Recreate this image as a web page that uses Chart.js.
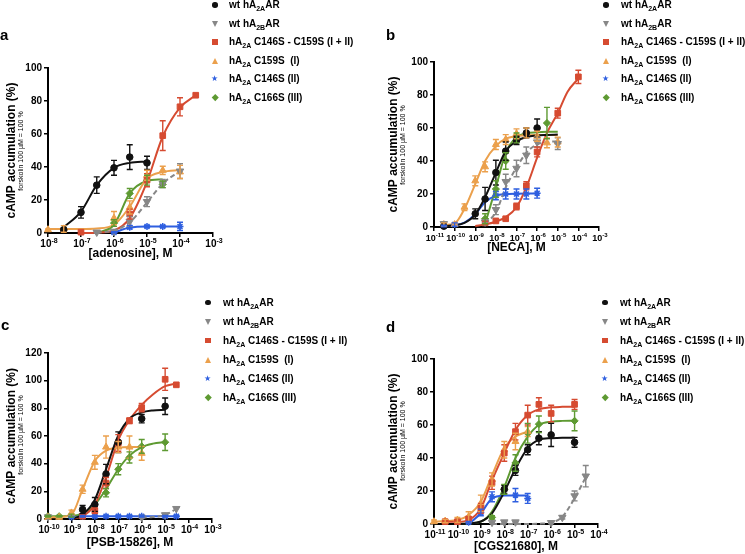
<!DOCTYPE html>
<html>
<head>
<meta charset="utf-8">
<script src="https://cdn.jsdelivr.net/npm/chart.js@4.4.1/dist/chart.umd.min.js"></script>
<style>
  body { margin: 0; background: #fff; font-family: "Liberation Sans", Arial, sans-serif; }
  #page { position: relative; width: 745px; height: 554px; overflow: hidden; }
  .panel { position: absolute; }
  .letter { position: absolute; font-weight: bold; font-size: 15px; line-height: 15px; }
  .subtitle { position: absolute; font-size: 7px; white-space: nowrap; transform: translate(-50%, -50%) rotate(-90deg); }
  .legend-row { position: absolute; white-space: nowrap; font-size: 10px; font-weight: bold; line-height: 12px; }
  .legend-row sub { font-size: 7px; vertical-align: -3px; line-height: 0; }
  .mk { position: absolute; }
</style>
</head>
<body>
<div id="page">
  <div class="panel" id="boxA"><canvas id="chartA" width="235" height="225"></canvas></div>
  <div class="panel" id="boxB"><canvas id="chartB" width="230" height="220"></canvas></div>
  <div class="panel" id="boxC"><canvas id="chartC" width="235" height="224"></canvas></div>
  <div class="panel" id="boxD"><canvas id="chartD" width="230" height="224"></canvas></div>
</div>
<script>
// values: concentrations in M, responses in % (forskolin 100 uM = 100 %)

// a: adenosine
const adenosineConc = [1e-8, 3e-8, 1e-7, 3e-7, 1e-6, 3e-6, 1e-5, 3e-5, 1e-4, 3e-4];
const adenosineTicks = [1e-8, 1e-7, 1e-6, 1e-5, 1e-4, 1e-3];
const adenosineWtA2A    = [null, 2, 12.5, 29, 39.5, 46, 42.5, null, null, null];
const adenosineWtA2AErr = [null, 1, 3.5, 5, 4.5, 7.5, 4, null, null, null];
const adenosineWtA2AFit = [null, 3.5, 13, 29, 39.5, 42.5, 43.3, null, null, null];
const adenosineWtA2B    = [null, null, null, 0.5, 1, 7, 19, 30, 37.5, null];
const adenosineWtA2BErr = [null, null, null, 0.5, 0.5, 3, 3, 2.5, 4.5, null];
const adenosineWtA2BFit = [null, null, null, 0.3, 1.5, 6.5, 18.5, 30, 37.5, null];
const adenosineDbl      = [null, null, 0.5, null, null, 11.5, 32, 59, 76.5, 83.5];
const adenosineDblErr   = [null, null, 0.5, null, null, 3, 4, 9, 5.5, 0];
const adenosineDblFit   = [null, null, 0, 0.2, 1.5, 9, 31, 58.5, 76, 83.5];
const adenosineC159     = [2, 2.5, null, null, 9, 15.5, 35, 38, 37, null];
const adenosineC159Err  = [0.5, 2, null, null, 4, 4, 3, 2.5, 4, null];
const adenosineC159Fit  = [2.5, 2.5, 2.5, 2.8, 5, 16, 33, 37, 38.2, null];
const adenosineC146     = [null, null, null, null, 0.3, 3.5, 4, 4, 4, null];
const adenosineC146Err  = [null, null, null, null, 0.5, 1, 0.5, 0.5, 2.5, null];
const adenosineC146Fit  = [null, null, null, null, 0.3, 3.3, 4, 4, 4, null];
const adenosineC166     = [null, null, null, null, 6, 24, 32, 29.5, null, null];
const adenosineC166Err  = [null, null, null, null, 2, 3, 3, 2, null, null];
const adenosineC166Fit  = [null, null, null, 0, 5, 24, 31.5, 32.5, null, null];

// b: NECA
const necaConc = [3e-11, 1e-10, 3e-10, 1e-9, 3e-9, 1e-8, 3e-8, 1e-7, 3e-7, 1e-6, 3e-6, 1e-5, 3e-5, 1e-4];
const necaTicks = [1e-11, 1e-10, 1e-9, 1e-8, 1e-7, 1e-6, 1e-5, 1e-4, 1e-3];
const necaWtA2A    = [0.5, null, null, 8, 17, 33, 46, 52.5, 57, 60, null, null, null, null];
const necaWtA2AErr = [0.5, null, null, 3, 7, 7.5, 5.5, 2.5, 3, 5.5, null, null, null, null];
const necaWtA2AFit = [0.5, 1, 2.5, 7.5, 18, 33, 46, 52, 54.5, 55.5, 55.8, 56, null, null];
const necaWtA2B    = [2, null, null, null, 3, 10.5, 27.5, 35.5, 43.5, 51.5, null, 50.5, null, null];
const necaWtA2BErr = [1, null, null, null, 1.5, 3, 4.5, 5, 5, 3, null, 3.5, null, null];
const necaWtA2BFit = [null, null, null, null, 2, 9, 24, 36, 45, 50, 51.5, 52, null, null];
const necaDbl      = [null, null, null, null, 2.5, 3.7, 5, 12.5, 25, 45.5, null, 69, null, 91];
const necaDblErr   = [null, null, null, null, 1, 1, 1, 2, 2.5, 3, null, 3, null, 4];
const necaDblFit   = [null, null, null, 0.6, 1.6, 3.2, 6, 12, 24, 42, 57, 69, 82, 90];
const necaC159     = [1.5, 1.5, 12, 28, 36.5, 50, 53, 56.5, 57, 55, 51, 51.5, null, null];
const necaC159Err  = [1, 1, 2, 3, 3, 3, 3, 3, 3, 3, 3, 3, null, null];
const necaC159Fit  = [1.2, 2.2, 11, 26, 40, 49, 53.5, 55, 55.5, 55.8, 55.8, 55.8, null, null];
const necaC146     = [0.6, 1.5, null, null, null, 19, 20, 20, 20, 20.5, null, null, null, null];
const necaC146Err  = [0.5, 1, null, null, null, 2.5, 3, 3, 3, 3, null, null, null, null];
const necaC146Fit  = [0.6, 1, 2.6, 7.7, 15, 19, 19.9, 20.2, 20.3, 20.3, null, null, null, null];
const necaC166     = [null, null, null, null, 5, 23, 40, 54, null, null, 63, null, null, null];
const necaC166Err  = [null, null, null, null, 3, 5, 5, 3, null, null, 9.5, null, null, null];
const necaC166Fit  = [null, null, null, null, 2, 24, 45, 54.4, 56.8, 57.4, 57.7, 57.8, null, null];

// c: PSB-15826
const psbConc = [1e-10, 3e-10, 1e-9, 3e-9, 1e-8, 3e-8, 1e-7, 3e-7, 1e-6, 3e-6, 1e-5, 3e-5];
const psbTicks = [1e-10, 1e-9, 1e-8, 1e-7, 1e-6, 1e-5, 1e-4, 1e-3];
const psbWtA2A    = [null, null, null, 6.8, 10.5, 32.5, 55.5, null, 72.5, null, 81.5, null];
const psbWtA2AErr = [null, null, null, 3, 5, 7, 7.5, null, 3, null, 6, null];
const psbWtA2AFit = [null, null, 0, 3.2, 14, 36, 60.5, 72.5, 77, 78.5, 79, null];
const psbWtA2B    = [1.5, null, null, null, null, null, null, null, 1.2, null, 3, 7.5];
const psbWtA2BErr = [0.5, null, null, null, null, null, null, null, 0.5, null, 1, 0];
const psbWtA2BFit = [null, null, null, null, null, null, null, null, 1, 1.5, 3, 7.3];
const psbDbl      = [null, null, null, 2, 6, 26, 55, 71, 80.5, null, 101, 97];
const psbDblErr   = [null, null, null, 1, 2, 4, 6, 2, 3, null, 8, 0];
const psbDblFit   = [null, null, 0, 2, 10.5, 30, 57, 71.5, 82.5, 90, 96, 98];
const psbC159     = [1.2, 1.2, 4.4, 21.5, 41, 52, 52, 52, 47.5, null, null, null];
const psbC159Err  = [0.5, 0.5, 2, 3, 5, 8, 4, 8, 5, null, null, null];
const psbC159Fit  = [1.2, 1.5, 3.2, 21.5, 42, 49.5, 51.5, 52, 52, null, null, null];
const psbC146     = [null, null, 1.5, 2, 2, 2, 2, 2, 2, null, 2, 2];
const psbC146Err  = [null, null, 0.5, 0.5, 0.5, 0.5, 0.5, 0.5, 0.5, null, 0.5, 0.5];
const psbC146Fit  = [null, null, 0.5, 2, 2, 2, 2, 2, 2, 2, 2, 2];
const psbC166     = [2, 2, 2.5, null, null, 19, 36, 44.5, 52.5, null, 55.5, null];
const psbC166Err  = [0.5, 0.5, 1, null, null, 3, 4, 4, 5, null, 6, null];
const psbC166Fit  = [2, 2, 2.1, 4, 10.5, 21.5, 36, 45.8, 52, 54.5, 55.6, null];

// d: CGS21680
const cgsConc = [1e-11, 3e-11, 1e-10, 3e-10, 1e-9, 3e-9, 1e-8, 3e-8, 1e-7, 3e-7, 1e-6, 3e-6, 1e-5, 3e-5];
const cgsTicks = [1e-11, 1e-10, 1e-9, 1e-8, 1e-7, 1e-6, 1e-5, 1e-4];
const cgsWtA2A    = [null, null, null, null, null, null, 21, 32.5, 45, 52, 54, null, 49.5, null];
const cgsWtA2AErr = [null, null, null, null, null, null, 2.5, 3, 3, 4, 7, null, 3, null];
const cgsWtA2AFit = [null, null, 0, 0.3, 1.5, 6.5, 19.5, 33.5, 46, 51, 52, 52.3, 52.3, null];
const cgsWtA2B    = [null, null, null, null, null, 1, 1.2, 1.2, null, null, 0.8, 4, 17, 29];
const cgsWtA2BErr = [null, null, null, null, null, 0.5, 0.5, 0.5, null, null, 0.5, 1, 3, 6.5];
const cgsWtA2BFit = [null, null, null, null, null, 0, 0, 0, 0, 0.2, 0.8, 4.4, 15.6, 28.3];
const cgsDbl      = [null, 1.4, 1.4, 3, 9.5, 25, 43, 56, 66, 72.5, 67, null, 72.5, null];
const cgsDblErr   = [null, 1, 1, 1.5, 3, 4, 5, 5, 6, 4, 5, null, 3, null];
const cgsDblFit   = [null, 1.4, 1.4, 2.4, 9.5, 26.5, 43, 57, 66, 69.5, 70.7, 71, 71.1, null];
const cgsC159     = [1.4, 1.8, 2.4, 4.4, 12.5, 27, 45, 50, 56, null, null, null, null, null];
const cgsC159Err  = [1, 1, 1.5, 3, 5, 4, 5, 5, 3, null, null, null, null, null];
const cgsC159Fit  = [1.4, 1.8, 2.4, 5.5, 13.5, 29.5, 46, 53, 56, null, null, null, null, null];
const cgsC146     = [null, null, null, 1, 7, 16.5, null, 17.5, 15.5, null, null, null, null, null];
const cgsC146Err  = [null, null, null, 0.5, 2, 3, null, 4, 3, null, null, null, null, null];
const cgsC146Fit  = [null, null, null, 0, 6.5, 15.5, 17.2, 17.3, 17.3, null, null, null, null, null];
const cgsC166     = [null, null, null, null, null, 4, 21, 37, 55, 60.5, null, null, 62.5, null];
const cgsC166Err  = [null, null, null, null, null, 1, 3, 5, 6, 5, null, null, 6, null];
const cgsC166Fit  = [null, null, 0, 0.3, 1.4, 7.5, 22.5, 40, 53, 60, 62, 62.5, 62.6, null];

const seriesKeys = ['wtA2A', 'wtA2B', 'dbl', 'c159', 'c146', 'c166'];
const legendLabels = [
    'wt hA<sub>2A</sub>AR',
    'wt hA<sub>2B</sub>AR',
    'hA<sub>2A</sub> C146S - C159S (I + II)',
    'hA<sub>2A</sub> C159S&nbsp; (I)',
    'hA<sub>2A</sub> C146S (II)',
    'hA<sub>2A</sub> C166S (III)'
];

const STYLE = {
    wtA2A: { color: '#111111', shape: 'circle', r: 3.3 },
    wtA2B: { color: '#878787', shape: 'triangle', r: 4.3, rot: 180, dash: [5, 3] },
    dbl:   { color: '#d64b31', shape: 'rect', r: 4 },
    c159:  { color: '#eba04c', shape: 'triangle', r: 4 },
    c146:  { color: '#2e5fe0', shape: 'star', r: 3.5 },
    c166:  { color: '#5e9a32', shape: 'rectRot', r: 3.6 }
};

const FONT = "'Liberation Sans', Arial, sans-serif";
Chart.defaults.font.family = FONT;
Chart.defaults.color = '#000';

// error bars drawn from each point dataset's errors list through the chart scales
const errorBars = {
    id: 'errorBars',
    afterDatasetsDraw(chart) {
        const ctx = chart.ctx;
        const xs = chart.scales.x, ys = chart.scales.y;
        chart.data.datasets.forEach(ds => {
            if (!ds.errors) return;
            ctx.save();
            ctx.strokeStyle = ds.borderColor;
            ctx.lineWidth = 1.4;
            ds.data.forEach((p, j) => {
                const e = ds.errors[j];
                if (!e) return;
                const x = xs.getPixelForValue(p.x);
                const yTop = ys.getPixelForValue(p.y + e);
                const yBot = ys.getPixelForValue(Math.max(0, p.y - e));
                ctx.beginPath();
                ctx.moveTo(x, yTop); ctx.lineTo(x, yBot);
                ctx.moveTo(x - 3, yTop); ctx.lineTo(x + 3, yTop);
                ctx.moveTo(x - 3, yBot); ctx.lineTo(x + 3, yBot);
                ctx.stroke();
            });
            ctx.restore();
        });
    }
};

// x tick labels as 10 with a raised exponent, placed at the scale's own tick pixels
const powerTicks = {
    id: 'powerTicks',
    afterDraw(chart, args, opts) {
        const scale = chart.scales.x;
        const ctx = chart.ctx;
        const big = opts.size, small = Math.round(opts.size * 0.72);
        const base = scale.top + 14;
        ctx.save();
        ctx.fillStyle = '#000';
        ctx.textBaseline = 'alphabetic';
        ctx.textAlign = 'left';
        scale.ticks.forEach((t, i) => {
            const x = scale.getPixelForTick(i);
            const exp = String(Math.round(Math.log10(t.value)));
            ctx.font = `bold ${big}px ${FONT}`;
            const w1 = ctx.measureText('10').width;
            ctx.font = `bold ${small}px ${FONT}`;
            const w2 = ctx.measureText(exp).width;
            const x0 = x - (w1 + w2) / 2 + 1;
            ctx.font = `bold ${big}px ${FONT}`;
            ctx.fillText('10', x0, base);
            ctx.font = `bold ${small}px ${FONT}`;
            ctx.fillText(exp, x0 + w1, base - 4.5);
        });
        ctx.restore();
    }
};

const panels = [
    { id: 'chartA', box: 'boxA', pos: [0, 40, 235, 225], conc: adenosineConc, ticks: adenosineTicks, ymax: 100,
      xTitle: '[adenosine], M', pad: { top: 28, right: 22 }, yWidth: 48, xHeight: 32, yTitlePad: 4, xTitlePad: 4, tickSize: 10,
      series: {
          wtA2A: [adenosineWtA2A, adenosineWtA2AErr, adenosineWtA2AFit],
          wtA2B: [adenosineWtA2B, adenosineWtA2BErr, adenosineWtA2BFit],
          dbl: [adenosineDbl, adenosineDblErr, adenosineDblFit],
          c159: [adenosineC159, adenosineC159Err, adenosineC159Fit],
          c146: [adenosineC146, adenosineC146Err, adenosineC146Fit],
          c166: [adenosineC166, adenosineC166Err, adenosineC166Fit]
      },
      letter: ['a', 0, 27], sub: [20, 151], legend: [215, 229, 5, 18.5] },
    { id: 'chartB', box: 'boxB', pos: [385, 40, 230, 220], conc: necaConc, ticks: necaTicks, ymax: 100,
      xTitle: '[NECA], M', pad: { top: 22, right: 16 }, yWidth: 49, xHeight: 33, yTitlePad: 1, xTitlePad: 5, tickSize: 9,
      series: {
          wtA2A: [necaWtA2A, necaWtA2AErr, necaWtA2AFit],
          wtA2B: [necaWtA2B, necaWtA2BErr, necaWtA2BFit],
          dbl: [necaDbl, necaDblErr, necaDblFit],
          c159: [necaC159, necaC159Err, necaC159Fit],
          c146: [necaC146, necaC146Err, necaC146Fit],
          c166: [necaC166, necaC166Err, necaC166Fit]
      },
      letter: ['b', 386, 27], sub: [402, 145], legend: [606, 621, 5, 18.5] },
    { id: 'chartC', box: 'boxC', pos: [0, 330, 235, 224], conc: psbConc, ticks: psbTicks, ymax: 120,
      xTitle: '[PSB-15826], M', pad: { top: 23, right: 23 }, yWidth: 48, xHeight: 35, yTitlePad: 4, xTitlePad: 4, tickSize: 10,
      series: {
          wtA2A: [psbWtA2A, psbWtA2AErr, psbWtA2AFit],
          wtA2B: [psbWtA2B, psbWtA2BErr, psbWtA2BFit],
          dbl: [psbDbl, psbDblErr, psbDblFit],
          c159: [psbC159, psbC159Err, psbC159Fit],
          c146: [psbC146, psbC146Err, psbC146Fit],
          c166: [psbC166, psbC166Err, psbC166Fit]
      },
      letter: ['c', 1, 317], sub: [20, 435], legend: [208, 223, 302.5, 19] },
    { id: 'chartD', box: 'boxD', pos: [385, 330, 230, 224], conc: cgsConc, ticks: cgsTicks, ymax: 100,
      xTitle: '[CGS21680], M', pad: { top: 29, right: 17 }, yWidth: 49, xHeight: 30, yTitlePad: 1, xTitlePad: 0, tickSize: 10,
      series: {
          wtA2A: [cgsWtA2A, cgsWtA2AErr, cgsWtA2AFit],
          wtA2B: [cgsWtA2B, cgsWtA2BErr, cgsWtA2BFit],
          dbl: [cgsDbl, cgsDblErr, cgsDblFit],
          c159: [cgsC159, cgsC159Err, cgsC159Fit],
          c146: [cgsC146, cgsC146Err, cgsC146Fit],
          c166: [cgsC166, cgsC166Err, cgsC166Fit]
      },
      letter: ['d', 386, 319], sub: [402, 441], legend: [605, 620, 302.5, 19] }
];

function buildDatasets(p) {
    const sets = [];
    seriesKeys.forEach(key => {
        const [vals, errs, fit] = p.series[key];
        const st = STYLE[key];
        const fitPts = [], pts = [], bars = [];
        p.conc.forEach((c, i) => {
            if (fit[i] !== null) fitPts.push({ x: c, y: fit[i] });
            if (vals[i] !== null) { pts.push({ x: c, y: vals[i] }); bars.push(errs[i] || 0); }
        });
        sets.push({
            data: fitPts, showLine: true, borderColor: st.color, borderWidth: 2,
            borderDash: st.dash || [], pointRadius: 0, cubicInterpolationMode: 'monotone',
            clip: false, order: 2
        });
        sets.push({
            data: pts, showLine: false, pointStyle: st.shape, pointRadius: st.r,
            pointRotation: st.rot || 0, backgroundColor: st.color, borderColor: st.color,
            borderWidth: st.shape === 'star' ? 1.5 : 1, errors: bars, clip: false, order: 1
        });
    });
    return sets;
}

function axisLines() {
    return {
        grid: { display: true, drawOnChartArea: false, drawTicks: true, tickLength: 4, color: '#000', lineWidth: 1.5 },
        border: { display: true, color: '#000', width: 2 }
    };
}

function markerEl(key, x, y) {
    const st = STYLE[key];
    const m = document.createElement('div');
    m.className = 'mk';
    if (key === 'c146') {
        m.textContent = '\u2605';
        m.style.cssText = `left:${x - 4}px;top:${y - 6}px;color:${st.color};font-size:8px;line-height:12px;font-family:'DejaVu Sans'`;
    } else if (key === 'wtA2B' || key === 'c159') {
        const down = key === 'wtA2B';
        m.style.cssText = `left:${x - 3.5}px;top:${y - 3}px;width:0;height:0;border-left:3.5px solid transparent;border-right:3.5px solid transparent;` +
            (down ? `border-top:6px solid ${st.color}` : `border-bottom:6px solid ${st.color}`);
    } else {
        const s = key === 'c166' ? 4.5 : 5.5;
        m.style.cssText = `left:${x - s / 2}px;top:${y - s / 2}px;width:${s}px;height:${s}px;background:${st.color};` +
            (key === 'wtA2A' ? 'border-radius:50%;' : '') + (key === 'c166' ? 'transform:rotate(45deg);' : '');
    }
    return m;
}

document.addEventListener('DOMContentLoaded', () => {
    const page = document.getElementById('page');

    panels.forEach(p => {
        const box = document.getElementById(p.box);
        box.style.left = p.pos[0] + 'px';
        box.style.top = p.pos[1] + 'px';
        box.style.width = p.pos[2] + 'px';
        box.style.height = p.pos[3] + 'px';

        new Chart(document.getElementById(p.id).getContext('2d'), {
            type: 'scatter',
            data: { datasets: buildDatasets(p) },
            plugins: [errorBars, powerTicks],
            options: {
                responsive: false,
                animation: false,
                events: [],
                layout: { padding: { top: p.pad.top, right: p.pad.right, left: 0, bottom: 0 } },
                plugins: {
                    legend: { display: false },
                    tooltip: { enabled: false },
                    powerTicks: { size: p.tickSize }
                },
                scales: {
                    x: {
                        type: 'logarithmic',
                        min: p.ticks[0],
                        max: p.ticks[p.ticks.length - 1],
                        afterBuildTicks: scale => { scale.ticks = p.ticks.map(v => ({ value: v })); },
                        afterFit: scale => { scale.height = p.xHeight; },
                        ticks: { display: false, autoSkip: false, maxRotation: 0 },
                        title: {
                            display: true, text: p.xTitle,
                            font: { size: 12, weight: 'bold' },
                            padding: { top: 0, bottom: p.xTitlePad }
                        },
                        ...axisLines()
                    },
                    y: {
                        min: 0,
                        max: p.ymax,
                        afterFit: scale => { scale.width = p.yWidth; },
                        ticks: { stepSize: 20, padding: 2, font: { size: 10, weight: 'bold' } },
                        title: {
                            display: true, text: 'cAMP accumulation (%)',
                            font: { size: 12, weight: 'bold' },
                            padding: { top: p.yTitlePad, bottom: 0 }
                        },
                        ...axisLines()
                    }
                }
            }
        });

        const letter = document.createElement('div');
        letter.className = 'letter';
        letter.textContent = p.letter[0];
        letter.style.left = p.letter[1] + 'px';
        letter.style.top = p.letter[2] + 'px';
        page.appendChild(letter);

        const sub = document.createElement('div');
        sub.className = 'subtitle';
        sub.innerHTML = 'forskolin 100 \u00B5M = 100 %';
        sub.style.left = p.sub[0] + 'px';
        sub.style.top = p.sub[1] + 'px';
        page.appendChild(sub);

        const [mx, tx, y0, step] = p.legend;
        seriesKeys.forEach((key, i) => {
            const yc = y0 + step * i;
            page.appendChild(markerEl(key, mx, yc));
            const row = document.createElement('div');
            row.className = 'legend-row';
            row.innerHTML = legendLabels[i];
            row.style.left = tx + 'px';
            row.style.top = (yc - 6) + 'px';
            page.appendChild(row);
        });
    });
});
</script>
</body>
</html>
